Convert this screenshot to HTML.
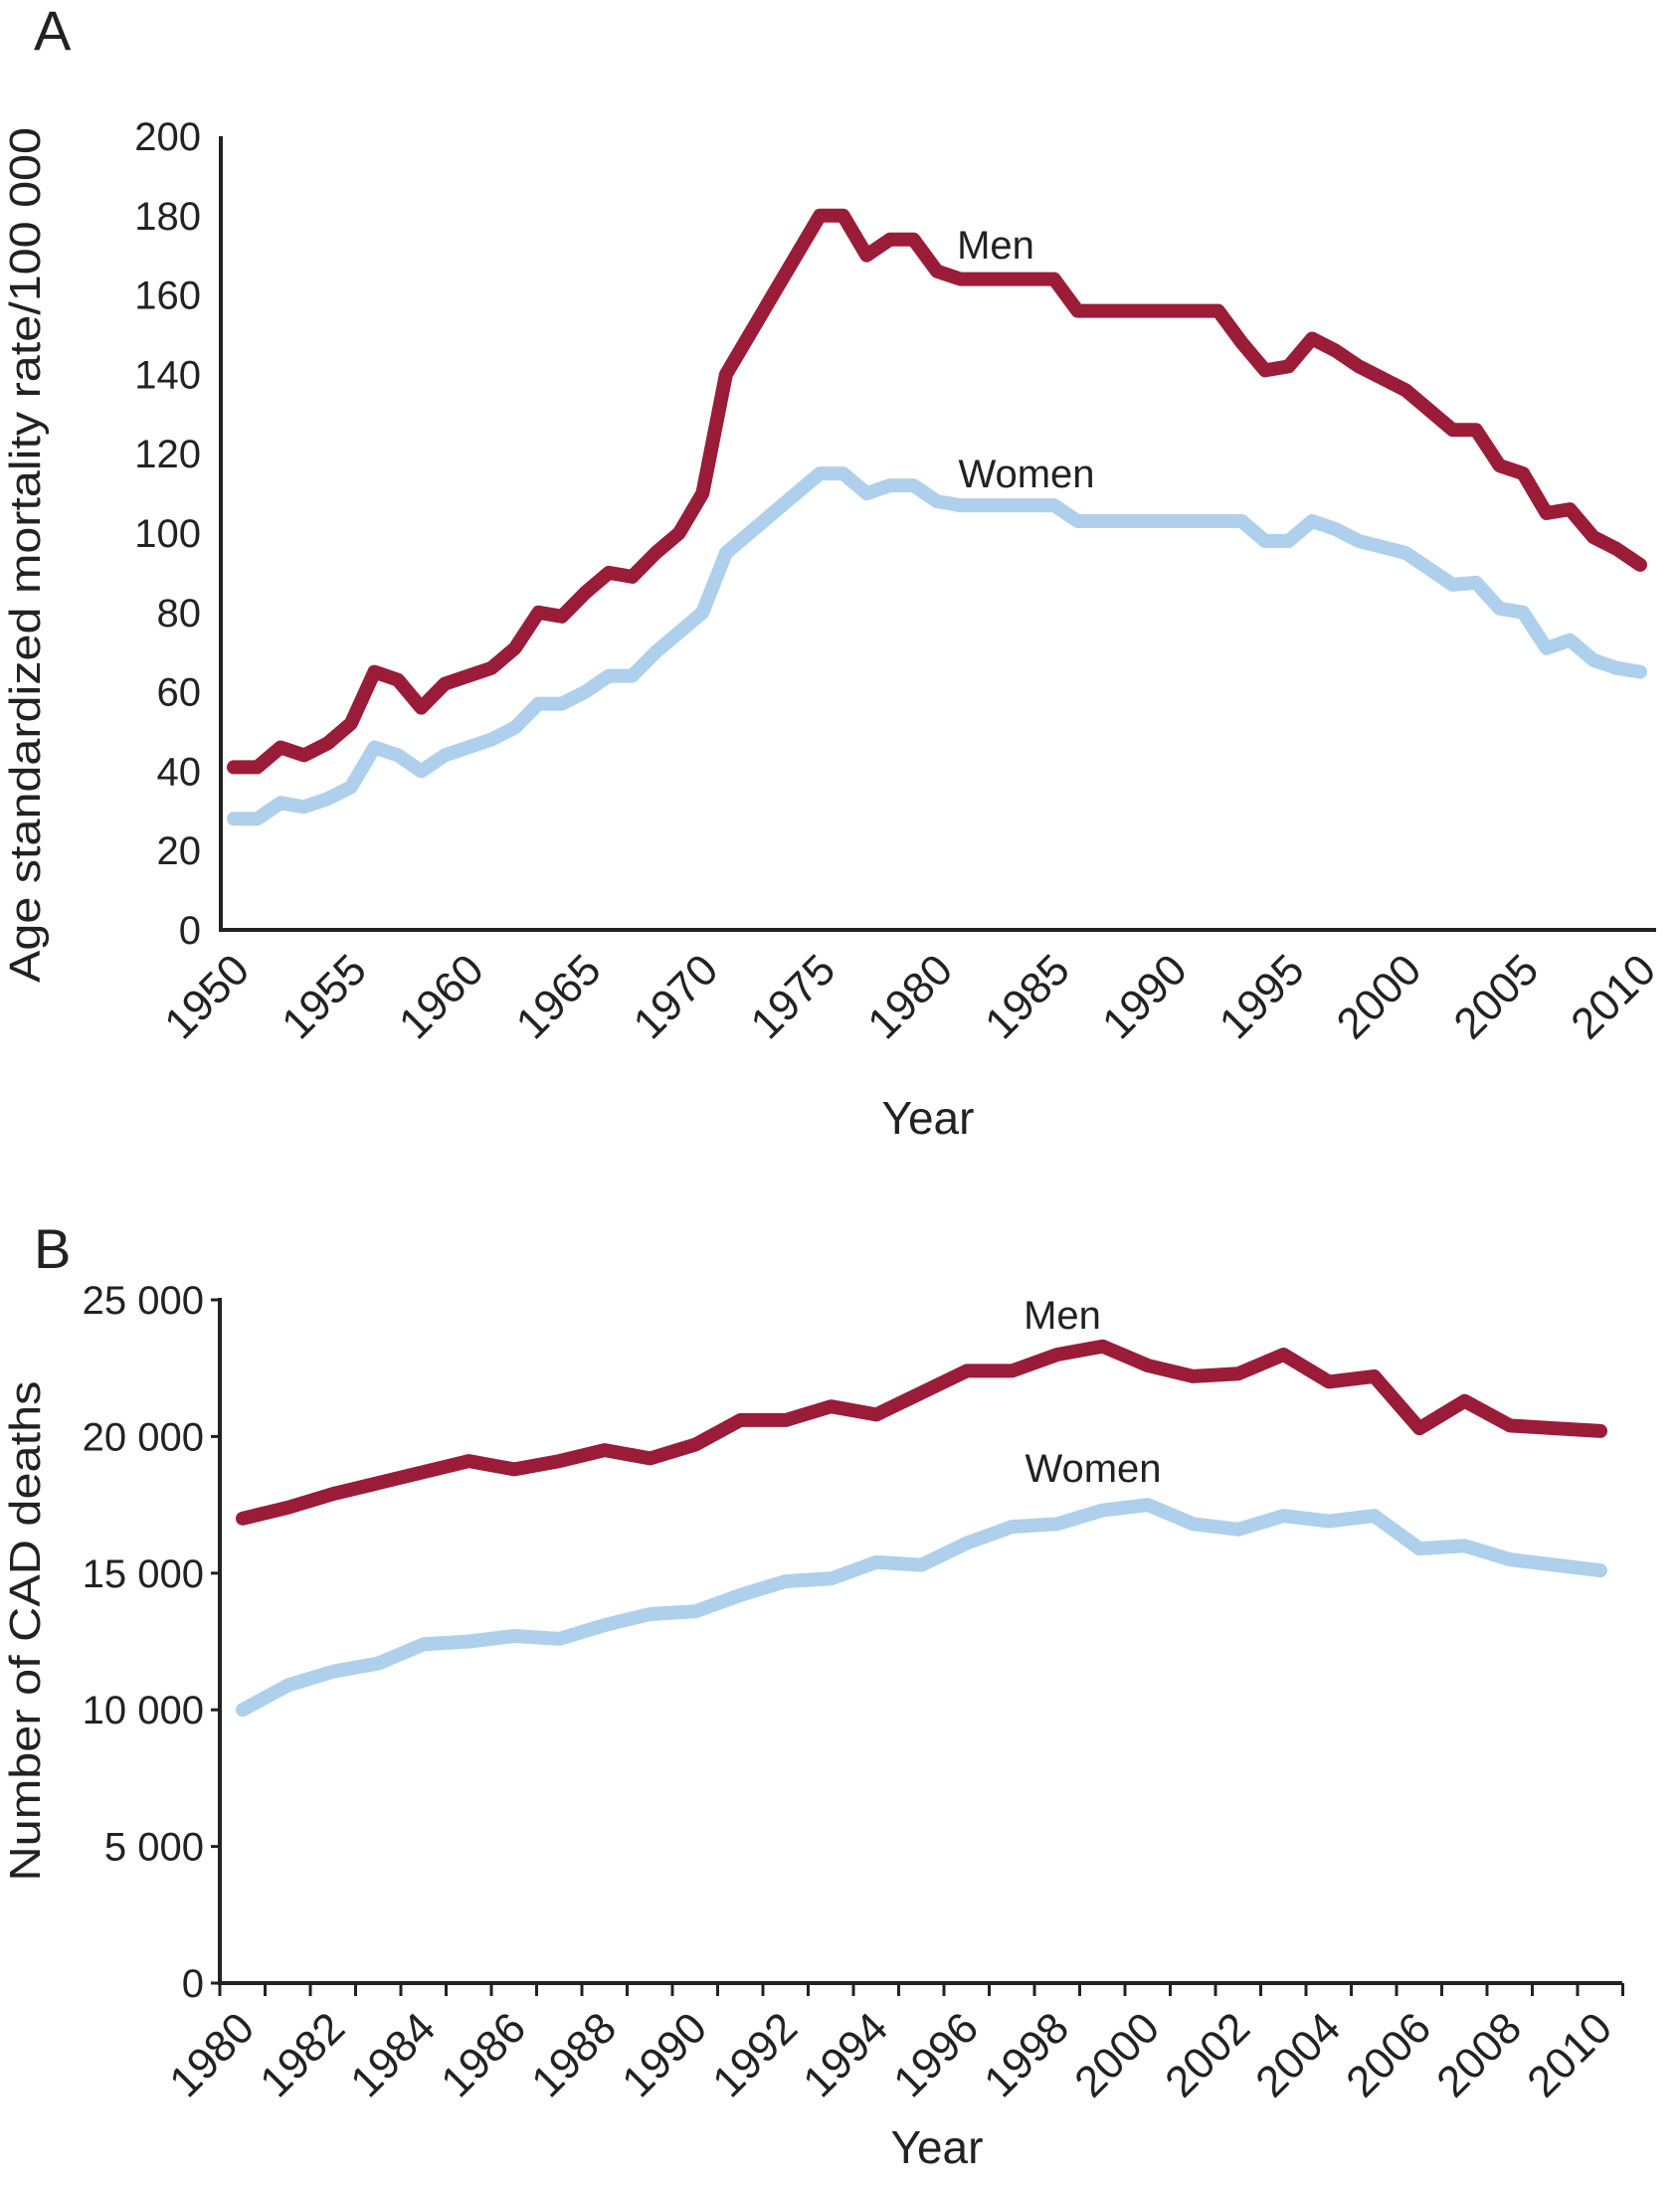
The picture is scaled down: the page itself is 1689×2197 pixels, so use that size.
<!DOCTYPE html>
<html><head><meta charset="utf-8"><style>
html,body{margin:0;padding:0;background:#fff;}
svg{display:block;font-family:"Liberation Sans",Arial,sans-serif;}
</style></head><body>
<svg id="svg" width="1689" height="2197" viewBox="0 0 1689 2197" xmlns="http://www.w3.org/2000/svg">
<text x="34" y="50" font-size="56" fill="#222">A</text>
<text x="34" y="1275" font-size="56" fill="#222">B</text>
<text transform="translate(40,558) rotate(-90)" text-anchor="middle" font-size="44" fill="#222" textLength="860" lengthAdjust="spacingAndGlyphs">Age standardized mortality rate/100 000</text>
<text transform="translate(40,1640) rotate(-90)" text-anchor="middle" font-size="44" fill="#222" textLength="503" lengthAdjust="spacingAndGlyphs">Number of CAD deaths</text>
<text x="933" y="1140" text-anchor="middle" font-size="46" fill="#222">Year</text>
<text x="942" y="2175" text-anchor="middle" font-size="46" fill="#222">Year</text>
<text x="1001" y="260" text-anchor="middle" font-size="40" fill="#222">Men</text>
<text x="1032" y="490" text-anchor="middle" font-size="40" fill="#222">Women</text>
<text x="1068" y="1336" text-anchor="middle" font-size="40" fill="#222">Men</text>
<text x="1099" y="1490" text-anchor="middle" font-size="40" fill="#222">Women</text>
<g id="ga"></g><g id="gb"></g>
</svg>
<script>
const yearsA = [];for(let y=1950;y<=2010;y++)yearsA.push(y);
const menA = [41,41,46,44,47,52,65,63,56,62,64,66,71,80,79,85,90,89,95,100,110,140,150,160,170,180,180,170,174,174,166,164,164,164,164,164,156,156,156,156,156,156,156,148,141,142,149,146,142,139,136,131,126,126,117,115,105,106,99,96,92];
const womenA = [28,28,32,31,33,36,46,44,40,44,46,48,51,57,57,60,64,64,70,75,80,95,100,105,110,115,115,110,112,112,108,107,107,107,107,107,103,103,103,103,103,103,103,103,98,98,103,101,98,96.5,95,91,87,87.5,81,80,71,73,68,66,65];
const yTicksA = [0,20,40,60,80,100,120,140,160,180,200];
const xLabelsA = [1950,1955,1960,1965,1970,1975,1980,1985,1990,1995,2000,2005,2010];
const yearsB = [];for(let y=1980;y<=2010;y++)yearsB.push(y);
const menB = [17000,17400,17900,18300,18700,19100,18800,19100,19500,19200,19700,20600,20600,21100,20800,21600,22400,22400,23000,23300,22600,22200,22300,23000,22000,22200,20300,21300,20400,20300,20200];
const womenB = [10000,10900,11400,11700,12400,12500,12700,12600,13100,13500,13600,14200,14700,14800,15400,15300,16100,16700,16800,17300,17500,16800,16600,17100,16900,17100,15900,16000,15500,15300,15100];
const yTicksB = [0,5000,10000,15000,20000,25000];
const yTickLabelsB = ["0","5 000","10 000","15 000","20 000","25 000"];
const xLabelsB = [1980,1982,1984,1986,1988,1990,1992,1994,1996,1998,2000,2002,2004,2006,2008,2010];
const NS="http://www.w3.org/2000/svg";
const MEN="#9b1c38", WOMEN="#aed0ec", INK="#222";
function mk(p,tag,a){const e=document.createElementNS(NS,tag);for(const k in a)e.setAttribute(k,a[k]);p.appendChild(e);return e;}
const ga=document.getElementById('ga');
const xA=y=>235+(y-1950)*(1649-235)/60, yA=v=>935-v*(935-137)/200;
let ax=mk(ga,'line',{x1:222,y1:137,x2:222,y2:937,stroke:INK,'stroke-width':4});

ax=mk(ga,'line',{x1:220,y1:935,x2:1665,y2:935,stroke:INK,'stroke-width':4});

yTicksA.forEach(v=>{const t=mk(ga,'text',{x:202,y:yA(v)+14,'text-anchor':'end','font-size':40,fill:INK});t.textContent=v;
});
xLabelsA.forEach(v=>{const x=xA(v)+18,y=978;const t=mk(ga,'text',{transform:`translate(${x},${y}) rotate(-45)`,'text-anchor':'end','font-size':44,fill:INK});t.textContent=v;
});
function line(g,xs,vs,fx,fy,col,name){const d=vs.map((v,i)=>(i?'L':'M')+fx(xs[i]).toFixed(1)+','+fy(v).toFixed(1)).join('');
const p=mk(g,'path',{d:d,fill:'none',stroke:col,'stroke-width':14,'stroke-linejoin':'round','stroke-linecap':'round'});
}
line(ga,yearsA,womenA,xA,yA,WOMEN,'women-line-a');
line(ga,yearsA,menA,xA,yA,MEN,'men-line-a');
const gb=document.getElementById('gb');
const xB=y=>244+(y-1980)*45.5, yB=v=>1994-v*(1994-1307)/25000;
ax=mk(gb,'line',{x1:221,y1:1305,x2:221,y2:1996,stroke:INK,'stroke-width':4});

ax=mk(gb,'line',{x1:219,y1:1994,x2:1631,y2:1994,stroke:INK,'stroke-width':4});

yTicksB.forEach((v,i)=>{mk(gb,'line',{x1:212,y1:yB(v),x2:221,y2:yB(v),stroke:INK,'stroke-width':3});
const t=mk(gb,'text',{x:205,y:yB(v)+14,'text-anchor':'end','font-size':40,fill:INK});t.textContent=yTickLabelsB[i];
});
for(let k=0;k<=31;k++){mk(gb,'line',{x1:221+k*45.5,y1:1994,x2:221+k*45.5,y2:2007,stroke:INK,'stroke-width':3});}
xLabelsB.forEach(v=>{const x=xB(v)+14,y=2042;const t=mk(gb,'text',{transform:`translate(${x},${y}) rotate(-45)`,'text-anchor':'end','font-size':44,fill:INK});t.textContent=v;
});
line(gb,yearsB,womenB,xB,yB,WOMEN,'women-line-b');
line(gb,yearsB,menB,xB,yB,MEN,'men-line-b');
</script>
</body></html>
